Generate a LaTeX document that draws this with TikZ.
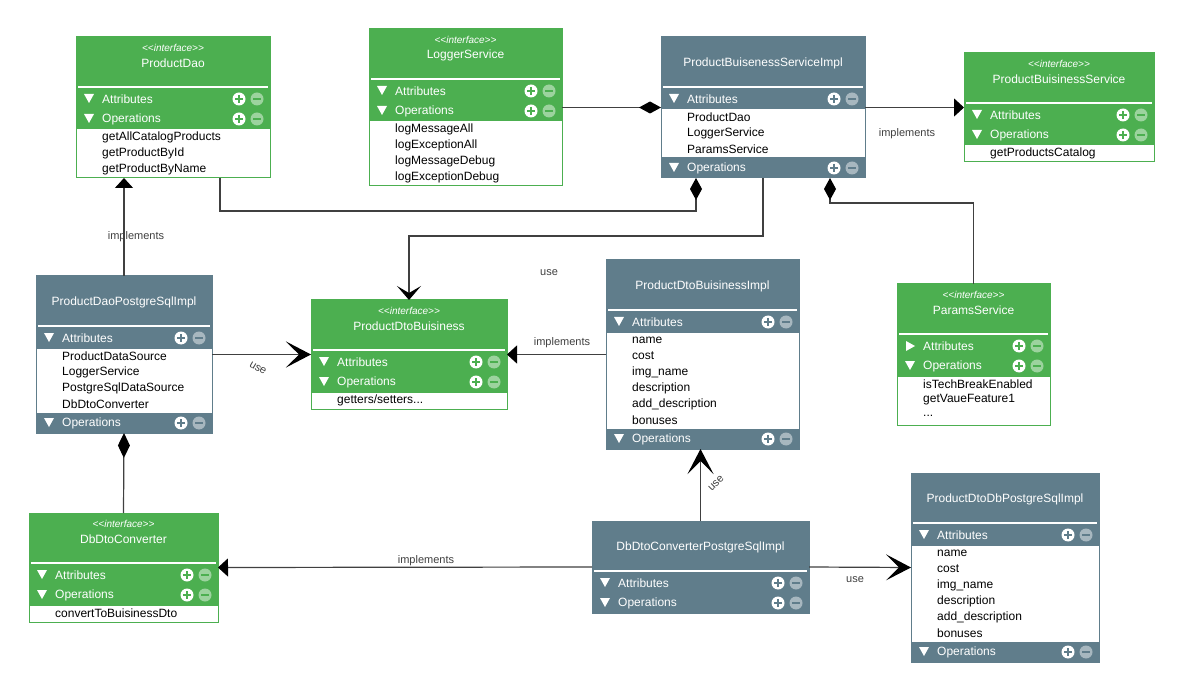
\documentclass[tikz,border=0pt]{standalone}
\usepackage{fontspec}
\setmainfont{Liberation Sans}
\usetikzlibrary{arrows.meta}

\definecolor{umlgreen}{HTML}{4CAF50}
\definecolor{umlgray}{HTML}{607D8B}
\definecolor{umlline}{HTML}{404040}

\newcommand{\stereo}{{<}{<}interface{>}{>}}
\newcommand{\threedots}{{.}{.}{.}}

\newcommand{\umlhead}[7]{%
    \fill[#5] (#2,#3) rectangle ++(#4,52);
    \draw[white, line width=2pt] ({#2+2},{#3+50}) -- ++({#4-4},0);
    \node[umltitle] (#1-title) at ({#2+#4/2},{#3+26}) {#7};
    \if\relax\detokenize{#6}\relax\else
        \node[umlstereo] (#1-stereo) at ({#2+#4/2},{#3+11}) {#6};
    \fi
}

\newcommand{\umlrow}[7]{%
    \fill[#5] (#2,#3) rectangle ++(#4,20);
    \ifnum#7=0
        \fill[white] ({#2+8},{#3+5}) -- ++(10,0) -- ++(-5,9) -- cycle;
    \else
        \fill[white] ({#2+9},{#3+5}) -- ++(9,5) -- ++(-9,5) -- cycle;
    \fi
    \node[umlrowtext] (#1) at ({#2+26},{#3+10}) {#6};
    \fill[white] ({#2+#4-31},{#3+10}) circle (6.5pt);
    \draw[#5, line width=2pt] ({#2+#4-35},{#3+10}) -- ++(8,0) ({#2+#4-31},{#3+6}) -- ++(0,8);
    \fill[white, opacity=0.45] ({#2+#4-13},{#3+10}) circle (6.5pt);
    \draw[#5, line width=2pt] ({#2+#4-17},{#3+10}) -- ++(8,0);
}

\newcommand{\umlbody}[7]{%
    \draw[#5, line width=1pt, fill=white] (#2,#3) rectangle ++(#4,{16*#6+1});
    \foreach \entry [count=\i] in {#7}
        \node[umlitem] (#1-\i) at ({#2+26},{#3+16*\i-8}) {\entry};
}

\newcommand{\umlframe}[6]{%
    \node[umlframe, draw=#6, minimum width=#4pt, minimum height=#5pt] (#1) at (#2,#3) {};
}

\begin{document}
\begin{tikzpicture}[x=1pt, y=-1pt,
    umltitle/.style={text=white, font=\fontsize{12}{14}\selectfont, inner sep=0pt},
    umlstereo/.style={text=white, font=\fontsize{10}{11}\selectfont\itshape, inner sep=0pt},
    umlrowtext/.style={anchor=west, text=white, font=\fontsize{12}{14}\selectfont, inner sep=0pt},
    umlitem/.style={anchor=west, text=black, font=\fontsize{12}{14}\selectfont, inner sep=0pt},
    umlframe/.style={anchor=north west, line width=1pt, inner sep=0pt, outer sep=0pt},
    conn/.style={draw=umlline, line width=1.2pt},
    lbl/.style={text=umlline, font=\fontsize{11}{13}\selectfont, inner sep=1pt},
    impl/.style={-{Triangle[length=10pt,width=18pt,color=black]}},
    usearrow/.style={-{Stealth[length=25pt,width=26pt,inset=13pt,color=black]}},
    usesmall/.style={-{Stealth[length=14pt,width=24pt,inset=7pt,color=black]}},
    diam/.style={-{Diamond[length=22pt,width=12pt,color=black]}}]
    \path[use as bounding box, fill=white] (0,0) rectangle (1185,692);

    \umlhead{pdao}{76}{37}{194}{umlgreen}{\stereo}{ProductDao}
    \umlrow{pdao-att}{76}{89}{194}{umlgreen}{Attributes}{0}
    \umlrow{pdao-ops}{76}{109}{194}{umlgreen}{Operations}{0}
    \umlbody{pdao-body}{76}{129}{194}{umlgreen}{3}{getAllCatalogProducts,getProductById,getProductByName}
    \umlframe{pdao}{76}{37}{194}{141}{umlgreen}

    \umlhead{logger}{369}{29}{193}{umlgreen}{\stereo}{LoggerService}
    \umlrow{logger-att}{369}{81}{193}{umlgreen}{Attributes}{0}
    \umlrow{logger-ops}{369}{101}{193}{umlgreen}{Operations}{0}
    \umlbody{logger-body}{369}{121}{193}{umlgreen}{4}{logMessageAll,logExceptionAll,logMessageDebug,logExceptionDebug}
    \umlframe{logger}{369}{29}{193}{157}{umlgreen}

    \umlhead{psimpl}{661}{37}{204}{umlgray}{}{ProductBuisenessServiceImpl}
    \umlrow{psimpl-att}{661}{89}{204}{umlgray}{Attributes}{0}
    \umlbody{psimpl-body}{661}{109}{204}{umlgray}{3}{ProductDao,LoggerService,ParamsService}
    \umlrow{psimpl-ops}{661}{158}{204}{umlgray}{Operations}{0}
    \umlframe{psimpl}{661}{37}{204}{141}{umlgray}

    \umlhead{pbs}{964}{53}{190}{umlgreen}{\stereo}{ProductBuisinessService}
    \umlrow{pbs-att}{964}{105}{190}{umlgreen}{Attributes}{0}
    \umlrow{pbs-ops}{964}{125}{190}{umlgreen}{Operations}{0}
    \umlbody{pbs-body}{964}{145}{190}{umlgreen}{1}{getProductsCatalog}
    \umlframe{pbs}{964}{53}{190}{109}{umlgreen}

    \umlhead{pdaoimpl}{36}{276}{176}{umlgray}{}{ProductDaoPostgreSqlImpl}
    \umlrow{pdaoimpl-att}{36}{328}{176}{umlgray}{Attributes}{0}
    \umlbody{pdaoimpl-body}{36}{348}{176}{umlgray}{4}{ProductDataSource,LoggerService,PostgreSqlDataSource,DbDtoConverter}
    \umlrow{pdaoimpl-ops}{36}{413}{176}{umlgray}{Operations}{0}
    \umlframe{pdaoimpl}{36}{276}{176}{157}{umlgray}

    \umlhead{pdto}{311}{300}{196}{umlgreen}{\stereo}{ProductDtoBuisiness}
    \umlrow{pdto-att}{311}{352}{196}{umlgreen}{Attributes}{0}
    \umlrow{pdto-ops}{311}{372}{196}{umlgreen}{Operations}{0}
    \umlbody{pdto-body}{311}{392}{196}{umlgreen}{1}{getters/setters\threedots}
    \umlframe{pdto}{311}{300}{196}{109}{umlgreen}

    \umlhead{pdtoimpl}{606}{260}{193}{umlgray}{}{ProductDtoBuisinessImpl}
    \umlrow{pdtoimpl-att}{606}{312}{193}{umlgray}{Attributes}{0}
    \umlbody{pdtoimpl-body}{606}{332}{193}{umlgray}{6}{name,cost,img\_name,description,add\_description,bonuses}
    \umlrow{pdtoimpl-ops}{606}{429}{193}{umlgray}{Operations}{0}
    \umlframe{pdtoimpl}{606}{260}{193}{189}{umlgray}

    \umlhead{params}{897}{284}{153}{umlgreen}{\stereo}{ParamsService}
    \umlrow{params-att}{897}{336}{153}{umlgreen}{Attributes}{1}
    \umlrow{params-ops}{897}{356}{153}{umlgreen}{Operations}{0}
    \umlbody{params-body}{897}{376}{153}{umlgreen}{3}{isTechBreakEnabled,getVaueFeature1,\threedots}
    \umlframe{params}{897}{284}{153}{141}{umlgreen}

    \umlhead{dbconv}{29}{513}{189}{umlgreen}{\stereo}{DbDtoConverter}
    \umlrow{dbconv-att}{29}{565}{189}{umlgreen}{Attributes}{0}
    \umlrow{dbconv-ops}{29}{585}{189}{umlgreen}{Operations}{0}
    \umlbody{dbconv-body}{29}{605}{189}{umlgreen}{1}{convertToBuisinessDto}
    \umlframe{dbconv}{29}{513}{189}{109}{umlgreen}

    \umlhead{dbimpl}{592}{521}{217}{umlgray}{}{DbDtoConverterPostgreSqlImpl}
    \umlrow{dbimpl-att}{592}{573}{217}{umlgray}{Attributes}{0}
    \umlrow{dbimpl-ops}{592}{593}{217}{umlgray}{Operations}{0}
    \umlframe{dbimpl}{592}{521}{217}{92}{umlgray}

    \umlhead{pdtodb}{911}{473}{188}{umlgray}{}{ProductDtoDbPostgreSqlImpl}
    \umlrow{pdtodb-att}{911}{525}{188}{umlgray}{Attributes}{0}
    \umlbody{pdtodb-body}{911}{545}{188}{umlgray}{6}{name,cost,img\_name,description,add\_description,bonuses}
    \umlrow{pdtodb-ops}{911}{642}{188}{umlgray}{Operations}{0}
    \umlframe{pdtodb}{911}{473}{188}{189}{umlgray}

    \draw[conn, diam] (logger.east) -- (psimpl.west);
    \draw[conn, impl] (psimpl.east) -- (pbs.west) node[lbl] (lbl-pbs) at (907,134) {implements};
    \draw[conn, diam] ([xshift=47pt]pdao.south) -- ++(0,33) -| ([xshift=-67pt]psimpl.south);
    \draw[conn, usesmall] (psimpl.south) -- ++(0,58) -| (pdto.north) node[lbl] (lbl-psuse) at (549,273) {use};
    \draw[conn, diam] (params.north) -- ++(0,-81) -| ([xshift=67pt]psimpl.south);
    \draw[conn, impl] (pdaoimpl.north) -- (pdaoimpl.north |- pdao.south) node[lbl] (lbl-pdao) at (136,237) {implements};
    \draw[conn, usearrow] (pdaoimpl.east) -- (pdto.west) node[lbl, rotate=-30] (lbl-daouse) at (258,368) {use};
    \draw[conn, impl] (pdtoimpl.west) -- (pdto.east) node[lbl] (lbl-pdto) at (562,343) {implements};
    \draw[conn, -{Diamond[length=25pt,width=12pt,color=black]}] (dbconv.north) -- (pdaoimpl.south);
    \draw[conn, usearrow] (dbimpl.north) -- (dbimpl.north |- pdtoimpl.south) node[lbl, rotate=45] (lbl-dbuse) at (716,483) {use};
    \draw[conn, impl] (dbimpl.west) -- (dbconv.east) node[lbl] (lbl-dbconv) at (426,561) {implements};
    \draw[conn, usearrow] (dbimpl.east) -- (pdtodb.west) node[lbl] (lbl-pdtodb) at (855,580) {use};
\end{tikzpicture}
\end{document}
